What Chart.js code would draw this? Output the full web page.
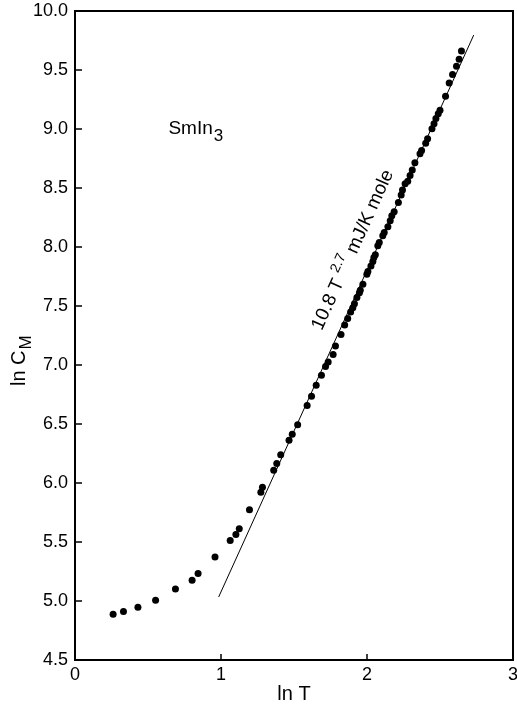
<!DOCTYPE html>
<html lang="en">
<head>
  <meta charset="UTF-8" />
  <title>SmIn3 specific heat</title>
  <script src="https://cdn.jsdelivr.net/npm/chart.js"></script>
  <style>
    body {
      margin: 0;
      background: #fff;
    }
    canvas {
      display: block;
    }
  </style>
</head>
<body>
  <canvas id="chart" width="517" height="707"></canvas>

  <script>
    // ln T / ln C_M measurements
    const lnT = [
      0.261, 0.332, 0.431, 0.552, 0.688, 0.802, 0.843, 0.959, 1.063, 1.102,
      1.125, 1.195, 1.273, 1.284, 1.361, 1.382, 1.409, 1.466, 1.488, 1.525,
      1.590, 1.620, 1.652, 1.688, 1.716, 1.734, 1.768, 1.784, 1.822, 1.847,
      1.868, 1.888, 1.903, 1.914, 1.931, 1.948, 1.954, 1.972, 1.999, 2.006,
      2.027, 2.040, 2.047, 2.057, 2.074, 2.084, 2.108, 2.118, 2.143, 2.159,
      2.170, 2.186, 2.215, 2.234, 2.243, 2.261, 2.279, 2.295, 2.310, 2.328,
      2.363, 2.374, 2.402, 2.415, 2.445, 2.459, 2.472, 2.488, 2.500, 2.538,
      2.563, 2.586, 2.613, 2.631, 2.647
    ];
    const lnC = [
      4.887, 4.912, 4.946, 5.006, 5.102, 5.176, 5.232, 5.372, 5.513, 5.564,
      5.612, 5.774, 5.921, 5.963, 6.108, 6.165, 6.239, 6.363, 6.414, 6.494,
      6.656, 6.735, 6.828, 6.913, 6.987, 7.026, 7.089, 7.162, 7.259, 7.338,
      7.395, 7.449, 7.485, 7.520, 7.571, 7.613, 7.633, 7.684, 7.770, 7.792,
      7.840, 7.877, 7.911, 7.934, 8.010, 8.038, 8.095, 8.123, 8.172, 8.223,
      8.265, 8.299, 8.378, 8.441, 8.484, 8.535, 8.557, 8.605, 8.652, 8.715,
      8.790, 8.818, 8.880, 8.917, 9.003, 9.045, 9.088, 9.130, 9.158, 9.277,
      9.390, 9.462, 9.532, 9.592, 9.660
    ];

    // T^2.7 power law, end points of the drawn segment
    const fitT = [0.984, 2.731];
    const fitC = [5.034, 9.796];

    const FONT = "'Liberation Sans', Arial, Helvetica, sans-serif";

    // frame, inward ticks and the text annotations
    const decorations = {
      id: 'decorations',
      afterDraw(chart) {
        const { ctx, chartArea: a, scales: { x, y } } = chart;
        ctx.save();
        ctx.strokeStyle = '#000';
        ctx.lineWidth = 2;
        ctx.strokeRect(a.left, a.top, a.right - a.left, a.bottom - a.top);

        ctx.lineWidth = 1.5;
        ctx.beginPath();
        x.ticks.forEach(t => {
          const px = x.getPixelForValue(t.value);
          ctx.moveTo(px, a.bottom);
          ctx.lineTo(px, a.bottom - 6);
        });
        y.ticks.forEach(t => {
          const py = y.getPixelForValue(t.value);
          ctx.moveTo(a.left, py);
          ctx.lineTo(a.left + 7, py);
        });
        ctx.stroke();

        ctx.fillStyle = '#000';
        ctx.textBaseline = 'alphabetic';

        // compound label
        let px = x.getPixelForValue(0.64);
        let py = y.getPixelForValue(8.96);
        ctx.font = '19px ' + FONT;
        ctx.fillText('SmIn', px, py);
        const w = ctx.measureText('SmIn').width;
        ctx.font = '17px ' + FONT;
        ctx.fillText('3', px + w + 1, py + 7);

        // power law label along the line
        const x0 = x.getPixelForValue(fitT[0]), y0 = y.getPixelForValue(fitC[0]);
        const x1 = x.getPixelForValue(fitT[1]), y1 = y.getPixelForValue(fitC[1]);
        const ang = Math.atan2(y1 - y0, x1 - x0);
        ctx.translate(x.getPixelForValue(1.69), y.getPixelForValue(7.287));
        ctx.rotate(ang);
        ctx.font = '19px ' + FONT;
        let cx = 0;
        ctx.fillText('10.8 T', cx, 0);
        cx += ctx.measureText('10.8 T ').width;
        ctx.font = '14px ' + FONT;
        ctx.fillText('2.7', cx, -9);
        cx += ctx.measureText('2.7').width;
        ctx.font = '19px ' + FONT;
        ctx.fillText(' mJ/K mole', cx, 0);
        ctx.restore();

        // y axis title with subscript
        ctx.save();
        ctx.translate(25, 386);
        ctx.rotate(-Math.PI / 2);
        ctx.fillStyle = '#000';
        ctx.font = '20px ' + FONT;
        ctx.fillText('ln C', 0, 0);
        const wc = ctx.measureText('ln C').width;
        ctx.font = '17px ' + FONT;
        ctx.fillText('M', wc + 1, 6);
        ctx.restore();
      }
    };

    const ctx = document.getElementById('chart').getContext('2d');
    new Chart(ctx, {
      type: 'scatter',
      data: {
        datasets: [
          {
            label: 'data',
            data: lnT.map((t, i) => ({ x: t, y: lnC[i] })),
            backgroundColor: '#000',
            borderWidth: 0,
            pointRadius: 3.5
          },
          {
            label: 'fit',
            data: fitT.map((t, i) => ({ x: t, y: fitC[i] })),
            showLine: true,
            borderColor: '#000',
            borderWidth: 1,
            pointRadius: 0
          }
        ]
      },
      options: {
        responsive: false,
        animation: false,
        layout: { padding: { top: 11, right: 1, left: 0, bottom: 0 } },
        plugins: {
          legend: { display: false },
          tooltip: { enabled: false }
        },
        scales: {
          x: {
            type: 'linear',
            min: 0,
            max: 3,
            afterFit: s => {
              s.height = 47;
              s.paddingLeft = 0;
              s.paddingRight = 0;
            },
            grid: { display: false, drawTicks: false },
            border: { display: false },
            ticks: {
              stepSize: 1,
              padding: 4,
              color: '#000',
              maxRotation: 0,
              font: { family: FONT, size: 18 },
              callback: v => v
            },
            title: {
              display: true,
              text: 'ln T',
              color: '#000',
              padding: { top: 0, bottom: 1 },
              font: { family: FONT, size: 20 }
            }
          },
          y: {
            min: 4.5,
            max: 10,
            afterFit: s => {
              s.width = 75;
              s.paddingTop = 0;
              s.paddingBottom = 0;
            },
            grid: { display: false, drawTicks: false },
            border: { display: false },
            ticks: {
              stepSize: 0.5,
              padding: 7,
              color: '#000',
              font: { family: FONT, size: 18 },
              callback: v => v.toFixed(1)
            }
          }
        }
      },
      plugins: [decorations]
    });
  </script>
</body>
</html>
